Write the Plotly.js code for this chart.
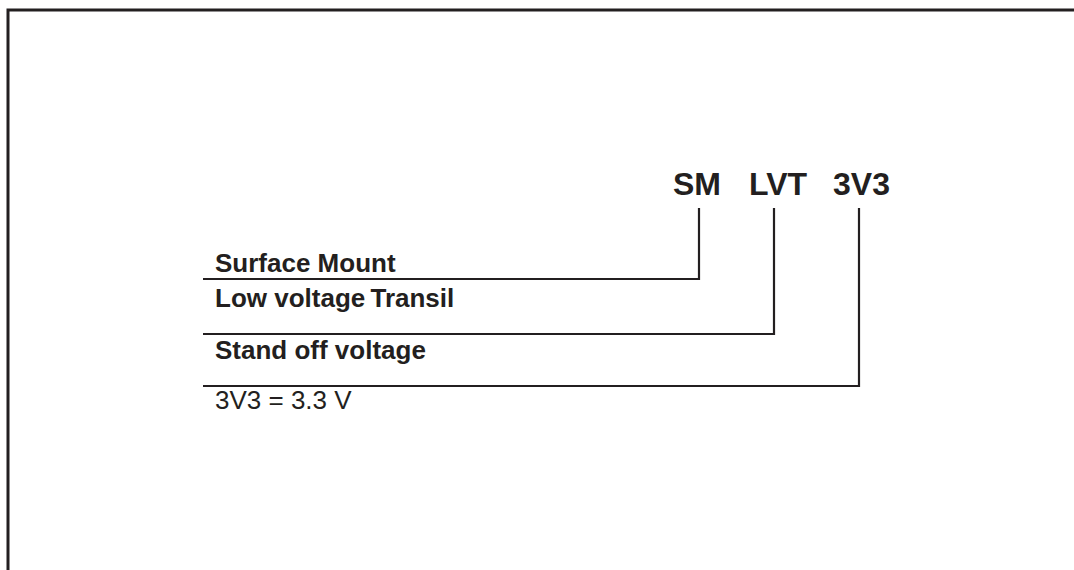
<!DOCTYPE html>
<html>
<head>
<meta charset="utf-8">
<script src="https://cdn.plot.ly/plotly-3.0.1.min.js"></script>
<style>html,body{margin:0;padding:0;background:#fff;}#chart{width:1074px;height:570px;}</style>
</head>
<body>
<div id="chart"></div>
<script>
// Part-number segments (codes) and their meanings
const codes = ['SM', 'LVT', '3V3'];
const descriptions = ['Surface Mount', 'Low voltage\u2009Transil', 'Stand off voltage'];
const note = '3V3 = 3.3 V';

// Diagram geometry (in pixel-like diagram units)
const codeX = [699, 774, 859];
const codeTextX = [697, 778, 861];
const codeY = 184;
const stemTop = 208;
const rowY = [279, 334, 386];
const rowStartX = 203;
const labelX = 214;
const labelY = [263, 298, 350];
const noteY = 400;

const ink = '#231f20';
const traces = [];
// frame: top and left edges
traces.push({x: [1074, 8, 8], y: [10, 10, 570], mode: 'lines', line: {color: ink, width: 3}, hoverinfo: 'skip', showlegend: false});
codes.forEach((c, i) => {
  traces.push({
    x: [rowStartX, codeX[i], codeX[i]],
    y: [rowY[i], rowY[i], stemTop],
    mode: 'lines', line: {color: ink, width: 2.2}, hoverinfo: 'skip', showlegend: false
  });
});

const annotations = [];
codes.forEach((c, i) => {
  annotations.push({x: codeTextX[i], y: codeY, xref: 'x', yref: 'y', text: '<b>' + c + '</b>', showarrow: false,
    xanchor: 'center', yanchor: 'middle', borderpad: 0, font: {family: 'Liberation Sans, Arial, sans-serif', size: 32, color: ink}});
});
descriptions.forEach((d, i) => {
  annotations.push({x: labelX, y: labelY[i], xref: 'x', yref: 'y', text: '<b>' + d + '</b>', showarrow: false,
    xanchor: 'left', yanchor: 'middle', borderpad: 0, font: {family: 'Liberation Sans, Arial, sans-serif', size: 26, color: ink}});
});
annotations.push({x: labelX, y: noteY, xref: 'x', yref: 'y', text: note, showarrow: false,
  xanchor: 'left', yanchor: 'middle', borderpad: 0, font: {family: 'Liberation Sans, Arial, sans-serif', size: 26, color: ink}});

const layout = {
  width: 1074, height: 570,
  margin: {l: 0, r: 0, t: 0, b: 0},
  paper_bgcolor: '#ffffff', plot_bgcolor: '#ffffff',
  xaxis: {range: [0, 1074], visible: false, fixedrange: true},
  yaxis: {range: [570, 0], visible: false, fixedrange: true},
  showlegend: false,
  annotations: annotations
};
Plotly.newPlot('chart', traces, layout, {displayModeBar: false, staticPlot: true});
</script>
</body>
</html>
